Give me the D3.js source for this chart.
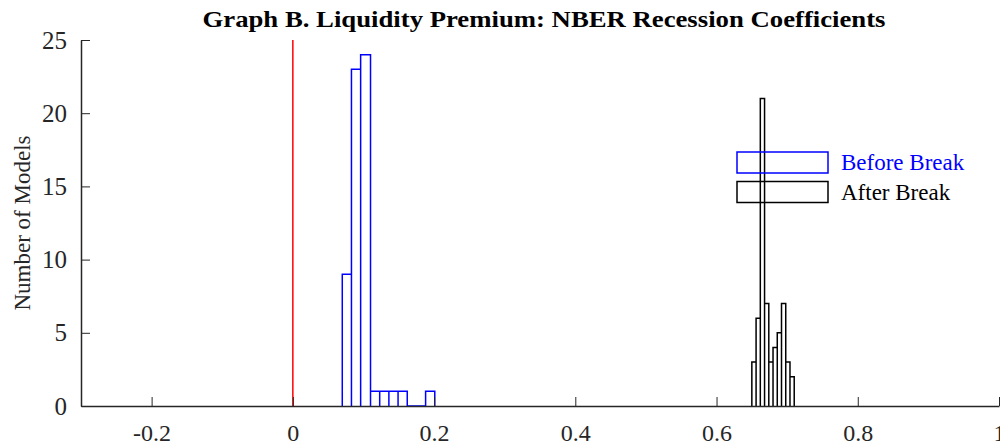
<!DOCTYPE html>
<html>
<head>
<meta charset="utf-8">
<script src="https://cdn.jsdelivr.net/npm/d3@7"></script>
<style>
  body { margin: 0; background: #fff; }
  svg { display: block; font-family: "Liberation Serif", "DejaVu Serif", serif; }
</style>
</head>
<body>
<div class="chart"></div>
<script>
// histogram bin edges and counts
const blueEdges = [0.070, 0.083, 0.096, 0.110, 0.123, 0.136, 0.149, 0.162, 0.175, 0.188, 0.201];
const blueCounts = [9, 23, 24, 1, 1, 1, 1, 0, 0, 1];
const blackEdges = [0.650, 0.656, 0.662, 0.668, 0.674, 0.680, 0.686, 0.692, 0.698, 0.704, 0.710];
const blackCounts = [3, 6, 21, 7, 3, 4, 5, 7, 3, 2];
const xTicks = [-0.2, 0, 0.2, 0.4, 0.6, 0.8, 1];
const yTicks = [0, 5, 10, 15, 20, 25];
const legendLabels = ["Before Break", "After Break"];

const width = 1000, height = 448;
const margin = {top: 40, right: 1, bottom: 42, left: 81};
const axisColor = "#262626";

const svg = d3.select('.chart')
    .append('svg')
    .attr("width", width)
    .attr("height", height)
    .attr("viewBox", [0, 0, width, height]);

const x = d3.scaleLinear()
    .domain([-0.3, 1])
    .range([margin.left, width - margin.right]);

const y = d3.scaleLinear()
    .domain([0, 25])
    .range([height - margin.bottom, margin.top]);

// bars as open paths so that empty bins still show a line on the baseline
const barPath = (edges, counts) => counts.map((c, i) => {
    const x0 = x(edges[i]), x1 = x(edges[i + 1]);
    return `M${x0},${y(0)}V${y(c)}H${x1}V${y(0)}`;
}).join("");

// red reference line at zero
svg.append("line")
    .attr("x1", x(0)).attr("x2", x(0))
    .attr("y1", y(0)).attr("y2", y(25))
    .attr("stroke", "#ff0000")
    .attr("stroke-width", 1.5);

svg.append("path")
    .attr("d", barPath(blueEdges, blueCounts))
    .attr("fill", "none")
    .attr("stroke", "#0000ff")
    .attr("stroke-width", 1.5);

svg.append("path")
    .attr("d", barPath(blackEdges, blackCounts))
    .attr("fill", "none")
    .attr("stroke", "#000")
    .attr("stroke-width", 1.5);

// axes
const xAxis = svg.append("g")
    .attr("transform", `translate(0,${y(0)})`)
    .call(d3.axisBottom(x).tickValues(xTicks).tickSizeInner(-9).tickSizeOuter(0)
        .tickFormat(d => String(d)));
xAxis.select(".domain").attr("stroke", axisColor).attr("stroke-width", 1.5);
xAxis.selectAll(".tick line").attr("stroke", axisColor);
xAxis.selectAll(".tick text")
    .attr("y", 35)
    .attr("dy", null)
    .attr("fill", axisColor)
    .attr("font-size", 24)
    .attr("font-family", "Liberation Serif, serif");

const yAxis = svg.append("g")
    .attr("transform", `translate(${x(-0.3)},0)`)
    .call(d3.axisLeft(y).tickValues(yTicks).tickSizeInner(-9).tickSizeOuter(0).tickPadding(14));
yAxis.select(".domain").attr("stroke", axisColor).attr("stroke-width", 1.5);
yAxis.selectAll(".tick line").attr("stroke", axisColor);
yAxis.selectAll(".tick text")
    .attr("fill", axisColor)
    .attr("font-size", 25)
    .attr("font-family", "Liberation Serif, serif");

// y label
svg.append("text")
    .attr("transform", `translate(30,${(y(0) + y(25)) / 2}) rotate(-90)`)
    .attr("text-anchor", "middle")
    .attr("font-size", 23)
    .attr("fill", axisColor)
    .text("Number of Models");

// title
svg.append("text")
    .attr("x", 544)
    .attr("y", 27)
    .attr("text-anchor", "middle")
    .attr("font-size", 24)
    .attr("font-weight", "bold")
    .attr("textLength", 683)
    .attr("lengthAdjust", "spacingAndGlyphs")
    .text("Graph B. Liquidity Premium: NBER Recession Coefficients");

// legend
const legendColors = ["#0000ff", "#000"];
const legend = svg.append("g").selectAll("g")
    .data(legendLabels)
    .join("g")
    .attr("transform", (d, i) => `translate(737,${152 + i * 29.5})`);

legend.append("rect")
    .attr("width", 91)
    .attr("height", 21)
    .attr("fill", "none")
    .attr("stroke", (d, i) => legendColors[i])
    .attr("stroke-width", 1.5);

legend.append("text")
    .attr("x", 104)
    .attr("y", 18)
    .attr("font-size", 23)
    .attr("fill", (d, i) => legendColors[i])
    .text(d => d);
</script>
</body>
</html>
